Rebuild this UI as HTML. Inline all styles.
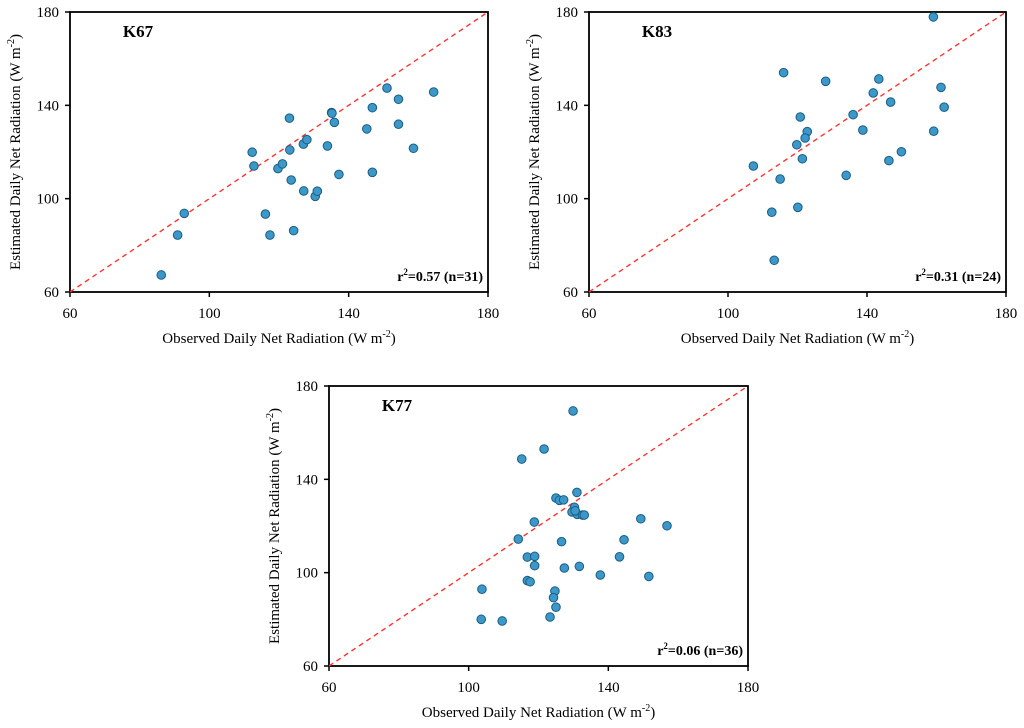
<!DOCTYPE html>
<html><head><meta charset="utf-8"><style>
body{margin:0;background:#fff;}
svg{display:block;font-family:"Liberation Serif",serif;}
</style></head><body>
<svg id="chart" width="1024" height="728" viewBox="0 0 1024 728"></svg>
<script>
const ticks=[60,100,140,180];
const tickLabels=["60","100","140","180"];
const k67Obs=[86.2,90.9,92.8,112.3,112.8,116.1,117.4,119.7,121.0,123.0,123.1,123.5,124.2,127.0,128.0,127.1,130.4,131.0,133.9,135.1,135.2,135.9,137.2,145.2,146.8,146.8,151.0,154.3,154.3,158.6,164.4];
const k67Est=[67.3,84.4,93.7,119.9,114.0,93.4,84.4,112.9,114.9,134.5,120.9,108.0,86.3,123.4,125.3,103.3,101.0,103.2,122.6,136.9,136.6,132.7,110.4,129.9,139.0,111.3,147.4,142.6,131.9,121.6,145.7];
const k83Obs=[159.1,116.0,128.1,143.4,141.8,161.3,146.8,162.2,120.8,136.0,122.8,122.2,138.8,159.2,119.8,121.4,149.9,146.3,107.3,115.0,134.0,112.6,120.1,113.3];
const k83Est=[177.9,154.0,150.3,151.3,145.3,147.7,141.4,139.2,135.0,136.0,128.7,126.0,129.4,128.9,123.1,117.1,120.1,116.3,114.0,108.4,110.0,94.2,96.3,73.6];
const k77Obs=[129.9,121.6,115.2,131.0,125.0,126.0,127.2,130.3,129.6,131.1,132.6,133.1,118.8,149.3,156.8,114.2,126.6,144.5,116.8,118.9,118.9,127.4,131.7,143.2,137.7,151.6,116.8,117.6,124.7,124.3,103.8,125.0,123.3,103.6,109.6,130.5];
const k77Est=[169.3,153.0,148.7,134.4,132.0,131.0,131.2,128.0,126.0,125.0,124.7,124.7,121.7,123.1,120.1,114.4,113.3,114.1,106.7,107.0,103.0,102.0,102.7,106.8,99.0,98.4,96.6,96.1,92.1,89.3,92.9,85.2,81.0,80.0,79.3,126.5];

const NS="http://www.w3.org/2000/svg";
const svg=document.getElementById('chart');
function mk(tag,attrs,parent){const e=document.createElementNS(NS,tag);for(const k in attrs)e.setAttribute(k,attrs[k]);(parent||svg).appendChild(e);return e;}

function panel(id,L,R,T,B,label,stat,obs,est){
  const g=mk('g',{});
  
  
  const sx=v=>L+(v-60)/120*(R-L);
  const sy=v=>B-(v-60)/120*(B-T);
  const fr=mk('rect',{x:L,y:T,width:R-L,height:B-T,fill:'none',stroke:'#000','stroke-width':1.8},g);
  
  
  ticks.forEach((t,i)=>{
    const xt=mk('line',{x1:sx(t),x2:sx(t),y1:B,y2:B+5,stroke:'#000','stroke-width':1.5},g);
    
    
    const yt=mk('line',{x1:L-5,x2:L,y1:sy(t),y2:sy(t),stroke:'#000','stroke-width':1.5},g);
    
    
    const xl=mk('text',{x:sx(t),y:B+26,'text-anchor':'middle','font-size':15},g);
    xl.textContent=tickLabels[i];
    
    
    const yl=mk('text',{x:L-11,y:sy(t)+5,'text-anchor':'end','font-size':15},g);
    yl.textContent=tickLabels[i];
    
    
  });
  const d=mk('line',{x1:sx(60),y1:sy(60),x2:sx(180),y2:sy(180),stroke:'#ff3333','stroke-width':1.4,'stroke-dasharray':'5,4'},g);
  
  
  obs.forEach((o,i)=>{
    const c=mk('circle',{cx:sx(o),cy:sy(est[i]),r:4.3,fill:'#3b98c9',stroke:'#1d5d82','stroke-width':1},g);
    
    
  });
  const lb=mk('text',{x:L+68,y:T+25,'font-size':17,'font-weight':'bold','text-anchor':'middle'},g);
  lb.textContent=label;
  
  
  const st=mk('text',{x:R-5,y:B-11,'font-size':14,'font-weight':'bold','text-anchor':'end'},g);
  st.innerHTML='r<tspan font-size="9" dy="-6">2</tspan><tspan dy="6">='+stat+'</tspan>';
  
  
  const xt=mk('text',{x:(L+R)/2,y:B+51,'font-size':15,'text-anchor':'middle'},g);
  xt.innerHTML='Observed Daily Net Radiation (W m<tspan font-size="10" dy="-6">-2</tspan><tspan dy="6">)</tspan>';
  
  
  const cx=L-50,cy=(T+B)/2;
  const yt=mk('text',{x:cx,y:cy,'font-size':15,'text-anchor':'middle',transform:'rotate(-90 '+cx+' '+cy+')'},g);
  yt.innerHTML='Estimated Daily Net Radiation (W m<tspan font-size="10" dy="-6">-2</tspan><tspan dy="6">)</tspan>';
  
  
}
panel('k67',70,488,12,292,'K67','0.57 (n=31)',k67Obs,k67Est);
panel('k83',589,1006,12,292,'K83','0.31 (n=24)',k83Obs,k83Est);
panel('k77',329,748,386,666,'K77','0.06 (n=36)',k77Obs,k77Est);
</script>
</body></html>
